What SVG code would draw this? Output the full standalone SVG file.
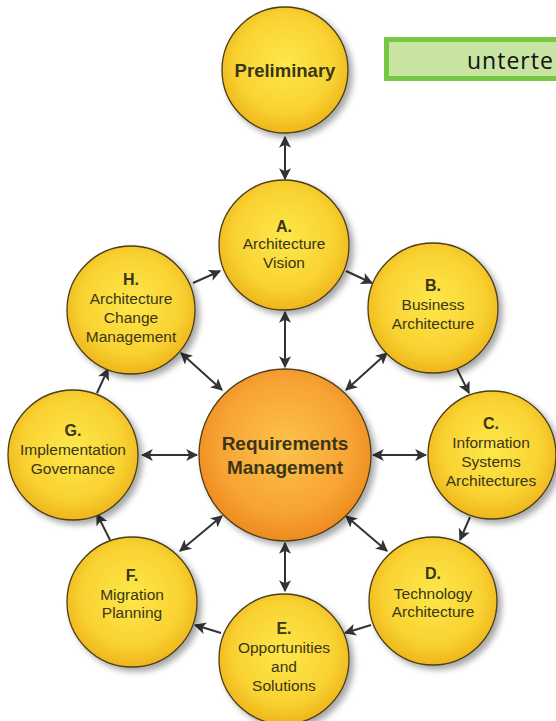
<svg xmlns="http://www.w3.org/2000/svg" width="556" height="721" viewBox="0 0 556 721">
<defs>
<radialGradient id="gy" cx="50%" cy="45%" r="55%">
<stop offset="0" stop-color="#fde84a"/>
<stop offset="0.7" stop-color="#f9d232"/>
<stop offset="1" stop-color="#eeb61c"/>
</radialGradient>
<radialGradient id="go" cx="50%" cy="45%" r="55%">
<stop offset="0" stop-color="#fcc34a"/>
<stop offset="0.7" stop-color="#f7a334"/>
<stop offset="1" stop-color="#ee8a1e"/>
</radialGradient>
<filter id="sh" x="-20%" y="-20%" width="150%" height="150%">
<feGaussianBlur in="SourceAlpha" stdDeviation="3"/>
<feOffset dx="4" dy="4"/>
<feComponentTransfer><feFuncA type="linear" slope="0.35"/></feComponentTransfer>
<feMerge><feMergeNode/><feMergeNode in="SourceGraphic"/></feMerge>
</filter>
<marker id="ah" viewBox="0 0 10 10" refX="9" refY="5" markerWidth="6" markerHeight="6" orient="auto-start-reverse" markerUnits="strokeWidth">
<path d="M0,0 L10,5 L0,10 L2.5,5 Z" fill="#333"/>
</marker>
</defs>
<style>
.n{fill:url(#gy);stroke:#4a3e1a;stroke-width:1.3;filter:url(#sh)}
.c{fill:url(#go);stroke:#4a3e1a;stroke-width:1.3;filter:url(#sh)}
text{font-family:"Liberation Sans",Arial,sans-serif;text-anchor:middle;fill:#3a3518}
.l{font-size:15.5px}
.h{font-size:16px;font-weight:bold}
.b{font-size:18.5px;font-weight:bold}
.r{font-size:19px;font-weight:bold}
.one{stroke:#333;stroke-width:2;fill:none;marker-end:url(#ah)}
.two{stroke:#333;stroke-width:2;fill:none;marker-end:url(#ah);marker-start:url(#ah)}
</style>
<rect width="556" height="721" fill="#ffffff"/>
<g id="note">
<rect x="386.5" y="39.5" width="180" height="39" fill="#c7e4a2" stroke="#74c843" stroke-width="5"/>
<text x="467" y="69" style="font-size:23px;letter-spacing:1px;text-anchor:start;fill:#111;font-family:'Open Sans','Liberation Sans',sans-serif">unterte</text>
</g>
<g id="connectors">
<line class="two" x1="285" y1="137" x2="285" y2="179"/>
<line class="one" x1="193" y1="283" x2="220" y2="271"/>
<line class="one" x1="346" y1="271" x2="372" y2="283"/>
<line class="one" x1="457" y1="369" x2="469" y2="393"/>
<line class="one" x1="470" y1="517" x2="460" y2="540"/>
<line class="one" x1="371" y1="625" x2="345" y2="633"/>
<line class="one" x1="221" y1="633" x2="195" y2="625"/>
<line class="one" x1="110" y1="540" x2="97" y2="514"/>
<line class="one" x1="97" y1="393" x2="108" y2="369"/>
<line class="two" x1="285" y1="312" x2="285" y2="367"/>
<line class="two" x1="387" y1="353" x2="346" y2="390"/>
<line class="two" x1="373" y1="455" x2="426" y2="455"/>
<line class="two" x1="346" y1="516" x2="387" y2="551"/>
<line class="two" x1="285" y1="543" x2="285" y2="591"/>
<line class="two" x1="222" y1="516" x2="180" y2="551"/>
<line class="two" x1="142" y1="455" x2="197" y2="455"/>
<line class="two" x1="181" y1="353" x2="222" y2="390"/>
</g>
<g id="preliminary"><circle class="n" cx="285" cy="70" r="63"/><text class="b" x="285" y="77">Preliminary</text></g>
<g id="nodeA"><circle class="n" cx="284" cy="245" r="65"/><text class="h" x="284" y="232">A.</text><text class="l" x="284" y="249">Architecture</text><text class="l" x="284" y="268">Vision</text></g>
<g id="nodeB"><circle class="n" cx="433" cy="308" r="65"/><text class="h" x="433" y="291">B.</text><text class="l" x="433" y="310">Business</text><text class="l" x="433" y="329">Architecture</text></g>
<g id="nodeC"><circle class="n" cx="492" cy="455" r="64"/><text class="h" x="491" y="429">C.</text><text class="l" x="491" y="448">Information</text><text class="l" x="491" y="467">Systems</text><text class="l" x="491" y="486">Architectures</text></g>
<g id="nodeD"><circle class="n" cx="433" cy="601" r="64"/><text class="h" x="433" y="579">D.</text><text class="l" x="433" y="599">Technology</text><text class="l" x="433" y="617">Architecture</text></g>
<g id="nodeE"><circle class="n" cx="284" cy="659" r="65"/><text class="h" x="284" y="634">E.</text><text class="l" x="284" y="653">Opportunities</text><text class="l" x="284" y="672">and</text><text class="l" x="284" y="691">Solutions</text></g>
<g id="nodeF"><circle class="n" cx="132" cy="602" r="65"/><text class="h" x="132" y="581">F.</text><text class="l" x="132" y="600">Migration</text><text class="l" x="132" y="618">Planning</text></g>
<g id="nodeG"><circle class="n" cx="73" cy="455" r="65"/><text class="h" x="73" y="436">G.</text><text class="l" x="73" y="455">Implementation</text><text class="l" x="73" y="474">Governance</text></g>
<g id="nodeH"><circle class="n" cx="131" cy="310" r="64"/><text class="h" x="131" y="285">H.</text><text class="l" x="131" y="304">Architecture</text><text class="l" x="131" y="323">Change</text><text class="l" x="131" y="342">Management</text></g>
<g id="requirements"><circle class="c" cx="285" cy="455" r="86"/><text class="r" x="285" y="450">Requirements</text><text class="r" x="285" y="474">Management</text></g>
</svg>
